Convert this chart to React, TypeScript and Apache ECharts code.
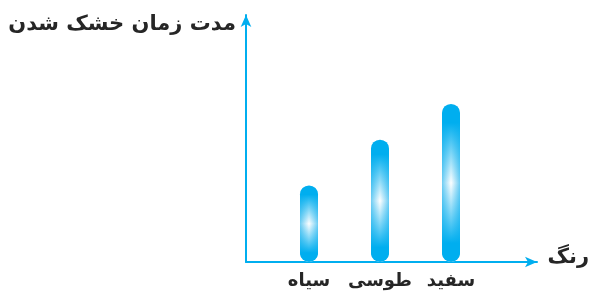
import React, { useEffect, useRef } from "react";
import * as echarts from "echarts";

const categories = ["سیاه", "طوسی", "سفید"];
const dryingTime = [3.1, 4.95, 6.4];
const yTitle = "مدت زمان خشک شدن";
const xTitle = "رنگ";

const CYAN = "#00aeef";
const TEXT = "#262626";
const FONT = "DejaVu Sans, sans-serif";

export default function App() {
  const ref = useRef<HTMLDivElement>(null);
  useEffect(() => {
    if (!ref.current) return;
    const chart = echarts.init(ref.current, null, { renderer: "svg" });
    const baseFill = new echarts.graphic.LinearGradient(0, 0, 1, 0, [
      { offset: 0, color: "#6fcdf3" },
      { offset: 0.5, color: "#ffffff" },
      { offset: 1, color: "#6fcdf3" },
    ]);
    const overFill = new echarts.graphic.LinearGradient(0, 0, 0, 1, [
      { offset: 0, color: "rgba(0,174,239,1)" },
      { offset: 0.12, color: "rgba(0,174,239,1)" },
      { offset: 0.5, color: "rgba(0,174,239,0)" },
      { offset: 0.88, color: "rgba(0,174,239,1)" },
      { offset: 1, color: "rgba(0,174,239,1)" },
    ]);
    chart.setOption({
      animation: false,
      grid: [
        { left: 246, top: 15, width: 291, height: 247 },
        { left: 273.5, top: 15, width: 213, height: 247 },
      ],
      xAxis: [
        {
          gridIndex: 0,
          type: "value",
          min: 0,
          max: 1,
          axisLine: { show: true, symbol: ["none", "arrow"], symbolSize: [8, 12], lineStyle: { color: CYAN, width: 2 } },
          axisTick: { show: false },
          axisLabel: { show: false },
          splitLine: { show: false },
        },
        {
          gridIndex: 1,
          type: "category",
          data: categories,
          axisLine: { show: false },
          axisTick: { show: false },
          axisLabel: { interval: 0, margin: 8, color: TEXT, fontSize: 18, fontWeight: "bold", fontFamily: FONT },
        },
      ],
      yAxis: [
        {
          gridIndex: 0,
          type: "value",
          min: 0,
          max: 10,
          axisLine: { show: true, symbol: ["none", "arrow"], symbolSize: [8, 12], lineStyle: { color: CYAN, width: 2 } },
          axisTick: { show: false },
          axisLabel: { show: false },
          splitLine: { show: false },
        },
        { gridIndex: 1, type: "value", min: 0, max: 10, show: false },
      ],
      series: [
        {
          type: "bar",
          xAxisIndex: 1,
          yAxisIndex: 1,
          data: dryingTime,
          barWidth: 18,
          itemStyle: { color: baseFill, borderRadius: 9 },
        },
        {
          type: "bar",
          xAxisIndex: 1,
          yAxisIndex: 1,
          data: dryingTime,
          barWidth: 18,
          barGap: "-100%",
          itemStyle: { color: overFill, borderRadius: 9 },
        },
      ],
      graphic: [
        {
          type: "text",
          x: 236,
          y: 23,
          style: { text: yTitle, align: "right", verticalAlign: "middle", fill: TEXT, fontSize: 21, fontWeight: "bold", fontFamily: FONT },
        },
        {
          type: "text",
          x: 589,
          y: 256,
          style: { text: xTitle, align: "right", verticalAlign: "middle", fill: TEXT, fontSize: 21, fontWeight: "bold", fontFamily: FONT },
        },
      ],
    });
    return () => chart.dispose();
  }, []);
  return <div ref={ref} style={{ position: "fixed", left: 0, top: 0, width: 589, height: 294 }} />;
}
